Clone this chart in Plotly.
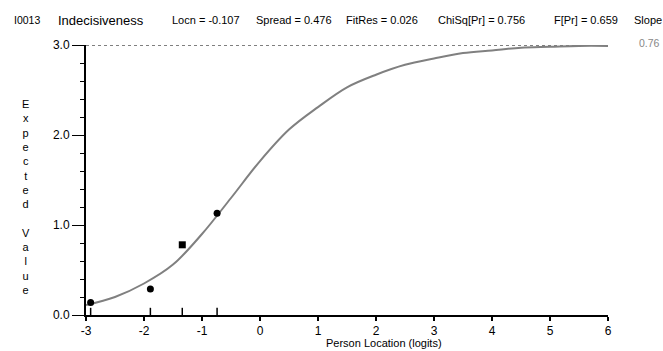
import plotly.graph_objects as go

# Observed class-interval means
obs_x = [-2.92, -1.89, -1.34, -0.74]
obs_y = [0.14, 0.29, 0.78, 1.13]

# Expected value curve
curve_x = [-3.0, -2.5, -2.0, -1.5, -1.0, -0.5, 0.0, 0.5, 1.0, 1.5, 2.0, 2.5, 3.0, 3.5, 4.0, 4.5, 5.0, 5.5, 6.0]
curve_y = [0.11, 0.20, 0.35, 0.56, 0.90, 1.30, 1.71, 2.06, 2.31, 2.53, 2.67, 2.78, 2.85, 2.91, 2.94, 2.97, 2.98, 2.99, 2.99]

x_ticks = [-3, -2, -1, 0, 1, 2, 3, 4, 5, 6]
x_labels = ["-3", "-2", "-1", "0", "1", "2", "3", "4", "5", "6"]
y_ticks = [0, 1, 2, 3]
y_labels = ["0.0", "1.0", "2.0", "3.0"]
max_score = 3.0

header_texts = ["I0013", "Indecisiveness", "Locn = -0.107", "Spread = 0.476", "FitRes = 0.026",
                "ChiSq[Pr] = 0.756", "F[Pr] = 0.659", "Slope"]
slope_value = "0.76"
x_title = "Person Location (logits)"

FONT = "Liberation Sans, Arial"
W, H = 663, 351
L, R, T, B = 86, 55, 45, 36
PW, PH = W - L - R, H - T - B

fig = go.Figure()

fig.add_trace(go.Scatter(x=[x_ticks[0], x_ticks[-1]], y=[max_score, max_score], mode="lines",
                         line=dict(color="#555555", width=1.5, dash="dot"),
                         hoverinfo="skip", cliponaxis=False, showlegend=False))
fig.add_trace(go.Scatter(x=curve_x, y=curve_y, mode="lines", line=dict(color="#808080", width=2, shape="spline"),
                         cliponaxis=False, showlegend=False))
fig.add_trace(go.Scatter(x=obs_x, y=obs_y, mode="markers",
                         marker=dict(color="black", size=7, symbol=["circle", "circle", "square", "circle"]),
                         cliponaxis=False, showlegend=False))

for xv in obs_x:
    fig.add_shape(type="line", xref="x", yref="y", x0=xv, x1=xv, y0=0, y1=0.08,
                  line=dict(color="black", width=1.5))

fig.update_layout(
    width=W, height=H,
    margin=dict(l=L, r=R, t=T, b=B, autoexpand=False),
    plot_bgcolor="white", paper_bgcolor="white",
    font=dict(family=FONT, size=11, color="black"),
    xaxis=dict(range=[-3, 6], tickvals=x_ticks, ticktext=x_labels, showgrid=False, zeroline=False,
               showline=True, linecolor="black", linewidth=2, ticks="outside", ticklen=4,
               tickwidth=1.5, tickcolor="black", tickfont=dict(size=12, family=FONT),
               ticklabelstandoff=0, automargin=False),
    yaxis=dict(range=[0, 3], tickvals=y_ticks, ticktext=y_labels, showgrid=False, zeroline=False,
               showline=True, linecolor="black", linewidth=2, ticks="outside", ticklen=12,
               tickwidth=1.2, tickcolor="black", tickfont=dict(size=12, family=FONT), automargin=False,
               minor=dict(dtick=0.2, ticks="outside", ticklen=4, tickcolor="black", tickwidth=1)),
)

fig.add_annotation(text=x_title, xref="paper", yref="paper", x=(384 - L) / PW, y=-(343 - T - PH) / PH,
                   showarrow=False, xanchor="center", yanchor="middle", borderpad=0,
                   font=dict(size=11, family=FONT))

ylabel = "<br>".join(list("Expected")) + "<br> <br>" + "<br>".join(list("Value"))
fig.add_annotation(text=ylabel, xref="paper", yref="paper", x=(26 - L) / PW, y=1 - (197 - T) / PH,
                   showarrow=False, font=dict(size=11, family=FONT), align="center",
                   xanchor="center", yanchor="middle")

header_x = [13, 57, 171, 255, 345, 437, 553, 633]
header_size = [10.5, 13, 11, 11, 11, 11, 11, 11]
for txt, px, fs in zip(header_texts, header_x, header_size):
    fig.add_annotation(text=txt, xref="paper", yref="paper",
                       x=(px - L) / PW, y=1 + (T - 20) / PH,
                       showarrow=False, xanchor="left", yanchor="middle", borderpad=0,
                       font=dict(size=fs, family=FONT, color="black"))
fig.add_annotation(text=slope_value, xref="paper", yref="paper",
                   x=(661 - L) / PW, y=1 + (T - 43) / PH,
                   showarrow=False, xanchor="right", yanchor="middle", borderpad=0,
                   font=dict(size=10.5, family=FONT, color="#888888"))

fig.write_html("out.html")
